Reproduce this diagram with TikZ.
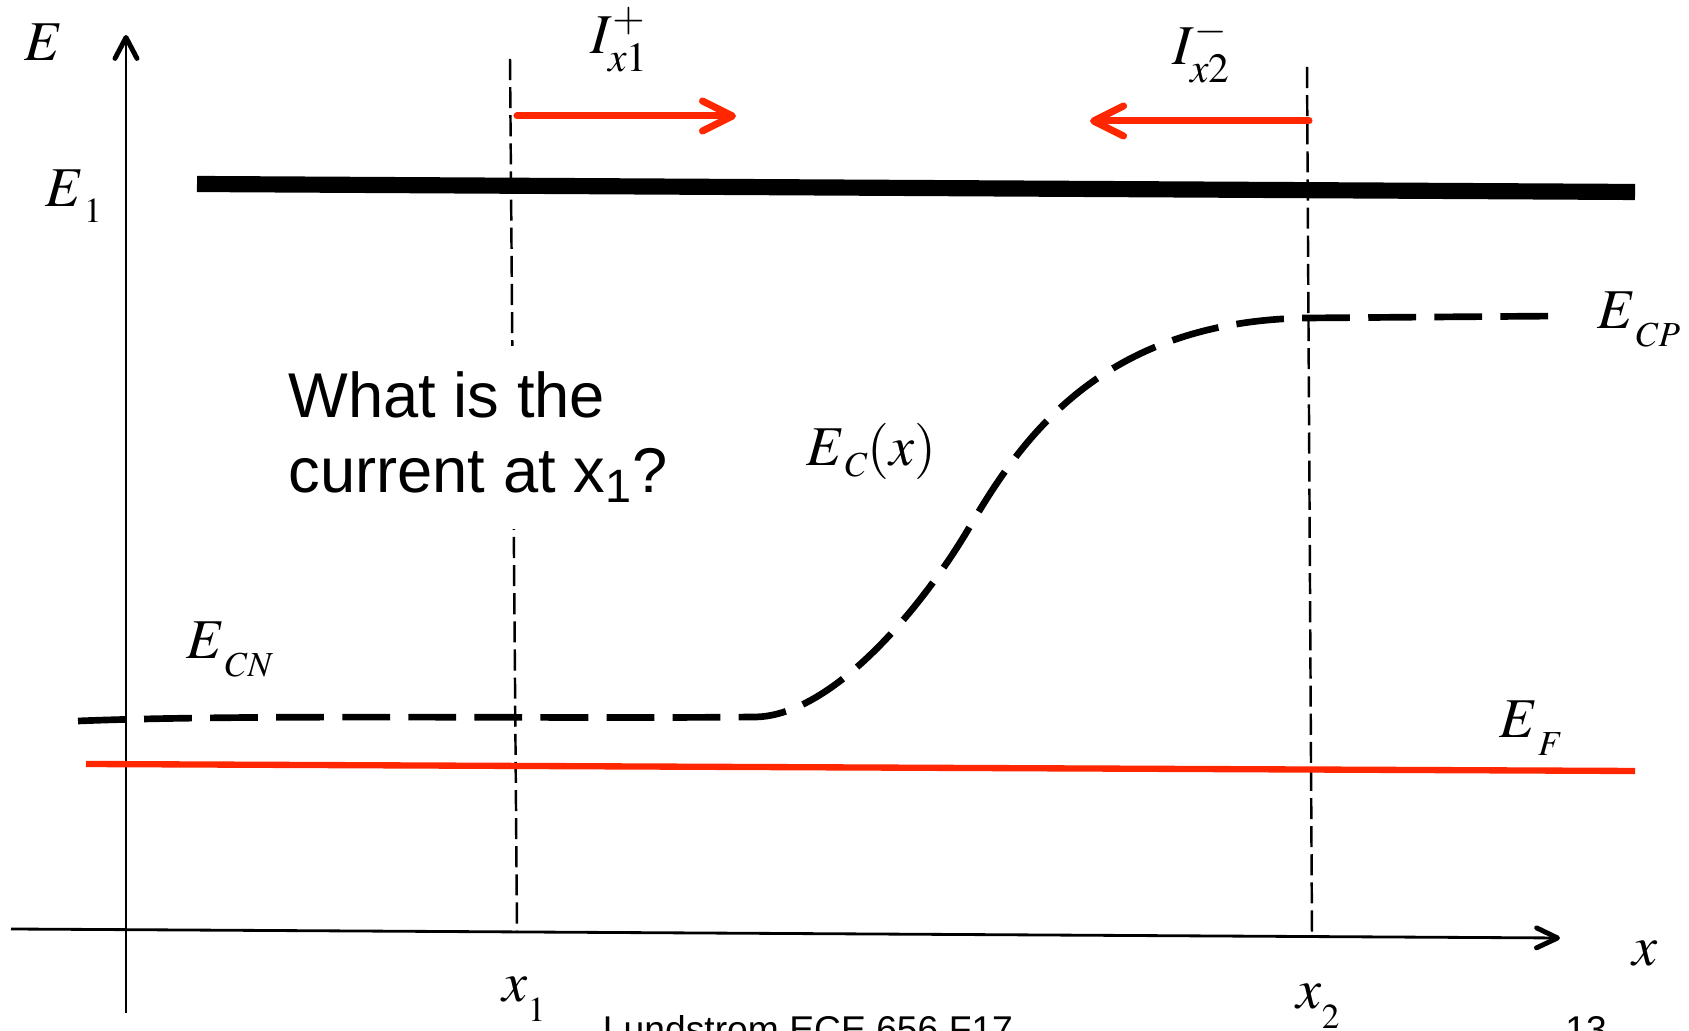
\documentclass[tikz,border=0pt]{standalone}
\usepackage{mathptmx}
\usepackage[no-math]{fontspec}
\setsansfont{Liberation Sans}
\usetikzlibrary{arrows.meta}
\definecolor{curred}{RGB}{255,38,0}
% subscript set low, as in the slide
\newcommand{\sublow}[2]{\raisebox{-#1}{\fontsize{10}{12}\selectfont$#2$}}

\begin{document}
\begin{tikzpicture}[
  lbl/.style={inner sep=0pt, anchor=base west, font=\fontsize{16}{19}\selectfont},
  axis/.style={line width=0.8pt},
  guide/.style={line width=0.7pt, dash pattern=on 6pt off 2pt},
  flux/.style={line width=2pt, color=curred, line cap=round,
               -{Straight Barb[length=0.3cm, width=0.3cm, round]}},
  band/.style={line width=1.9pt, dash pattern=on 13.6pt off 5.2pt}
]

\useasboundingbox (0,0) rectangle (16.89,10.31);

% Axes
\coordinate (eaxis0) at (1.26,0.18);
\coordinate (eaxis1) at (1.26,9.96);
\coordinate (xaxis0) at (0.11,1.02);
\coordinate (xaxis1) at (15.60,0.93);
\draw[axis, -{Straight Barb[length=0.21cm, width=0.22cm, line width=1.4pt, round]}] (eaxis0) -- (eaxis1);
\draw[axis, -{Straight Barb[length=0.21cm, width=0.2cm, line width=1.4pt, round]}] (xaxis0) -- (xaxis1);
\node[lbl] (elab) at (0.24,9.70) {$E$};
\node[lbl] (xlab) at (16.32,0.65) {$x$};

% Positions x1 and x2
\coordinate (x1top) at (5.10,9.72);
\coordinate (x1bot) at (5.17,0.99);
\coordinate (x2top) at (13.07,9.64);
\coordinate (x2bot) at (13.12,0.94);
\draw[guide] (x1top) -- (x1bot);
\draw[guide] (x2top) -- (x2bot);
\node[lbl] (x1lab) at (5.02,0.29) {$x$\sublow{5.5pt}{1}};
\node[lbl] (x2lab) at (12.96,0.22) {$x$\sublow{5.5pt}{2}};

% Energy level E1
\coordinate (e1left) at (1.97,8.47);
\coordinate (e1right) at (16.35,8.39);
\draw[line width=4.6pt] (e1left) -- (e1right);
\node[lbl] (e1lab) at (0.45,8.24) {$E$\sublow{4.5pt}{1}};

% Fluxes
\coordinate (iplus0) at (5.17,9.15);
\coordinate (iplus1) at (7.36,9.15);
\coordinate (iminus0) at (13.09,9.10);
\coordinate (iminus1) at (10.90,9.10);
\draw[flux] (iplus0) -- (iplus1);
\draw[flux] (iminus0) -- (iminus1);
\node[lbl] (ipluslab) at (5.90,9.77) {$I^+_{x1}$};
\node[lbl] (iminuslab) at (11.72,9.66) {$I^-_{x2}$};

% Conduction band
\draw[band] (0.78,3.10) .. controls (2.5,3.17) and (5.5,3.12) .. (7.54,3.14)
  .. controls (8.3,3.14) and (9.2,4.2) .. (9.69,5.03)
  .. controls (10.2,5.9) and (11.0,7.1) .. (13.07,7.13) -- (15.62,7.15);
\node[lbl] (ecnlab) at (1.86,3.72) {$E$\sublow{5pt}{CN}};
\node[lbl] (ecxlab) at (8.06,5.65) {$E$\sublow{3pt}{C}$(x)$};
\node[lbl] (ecplab) at (15.97,7.02) {$E$\sublow{5pt}{CP}};

% Fermi level
\coordinate (efleft) at (0.86,2.67);
\coordinate (efright) at (16.35,2.60);
\draw[curred, line width=1.8pt] (efleft) -- (efright);
\node[lbl] (eflab) at (14.99,2.93) {$E$\sublow{5pt}{F}};

% Question
\node[anchor=north west, fill=white, inner xsep=0.1cm, inner ysep=0.26cm, align=left,
      font=\sffamily\fontsize{18}{21.3}\selectfont] (question) at (2.78,6.86)
  {What is the\\current at x\textsubscript{1}?};

% Footer
\node[anchor=base, inner sep=0pt, font=\sffamily\fontsize{10.6}{12}\selectfont] (footer)
  at (8.08,-0.12) {Lundstrom ECE 656 F17};
\node[anchor=base, inner sep=0pt, font=\sffamily\fontsize{10.6}{12}\selectfont] (pageno)
  at (15.86,-0.12) {13};

\end{tikzpicture}
\end{document}
